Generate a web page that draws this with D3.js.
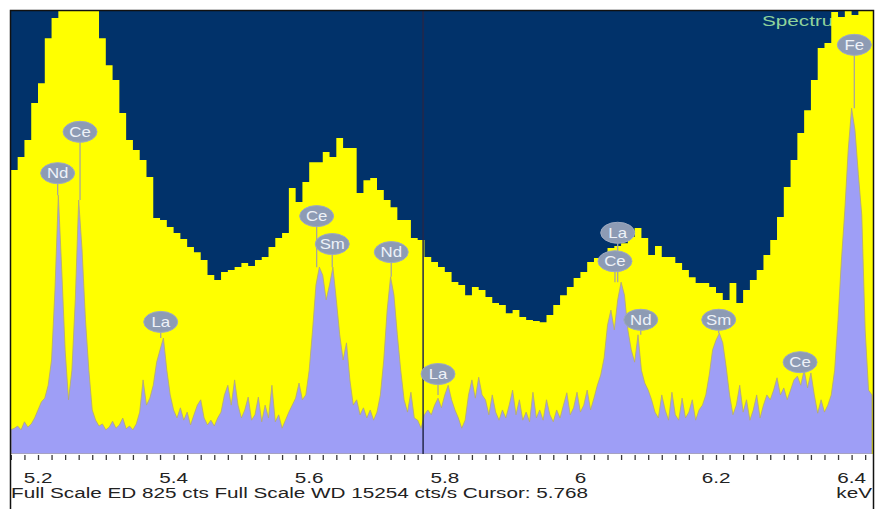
<!DOCTYPE html>
<html>
<head>
<meta charset="utf-8">
<script src="https://cdn.jsdelivr.net/npm/d3@7"></script>
<style>
  body { margin: 0; background: #fff; }
  svg { display: block; font-family: "Liberation Sans", Arial, sans-serif; }
</style>
</head>
<body>
<div id="chart"></div>
<script>
// WD spectrum, cts/s per 0.01 keV channel starting at 5.16 keV
const wdStart = 5.16;
const wdStep = 0.01;
const wdCps = [
  9780, 10230, 10810, 12090, 12770, 14320, 15010, 15900, 16600, 17200,
  17000, 16500, 15800, 14320, 13390, 12880, 11740, 10810, 10470, 10120,
  9540, 8130, 8060, 7820, 7610, 7400, 7130, 6950, 6680, 6160,
  5990, 6270, 6340, 6440, 6580, 6470, 6680, 6780, 7130, 7440,
  7610, 9160, 8680, 9370, 10050, 10050, 10400, 10230, 10880, 10540,
  10540, 8990, 9430, 9500, 9090, 8750, 8500, 8060, 8060, 7440,
  7370, 6780, 6610, 6440, 6270, 5920, 5820, 5470, 5750, 5650,
  5410, 5200, 5130, 4850, 4960, 4720, 4610, 4580, 4540, 4790,
  5130, 5470, 5750, 6060, 6270, 6610, 6750, 6780, 7090, 7160,
  7260, 7470, 7780, 7440, 6850, 7160, 6780, 6780, 6580, 6340,
  6090, 5890, 5890, 5750, 5540, 5300, 5890, 5200, 5650, 5990,
  6340, 6850, 7370, 8160, 9190, 10120, 11050, 11840, 12880, 13980,
  14150, 15220, 15050, 16000, 15120, 16500, 16500
];

// ED spectrum, counts per 0.005 keV step starting at 5.16 keV
const edStart = 5.16;
const edStep = 0.005;
const edCounts = [
  45, 48, 52, 45, 60, 50, 56, 67, 82, 97, 104, 128, 175, 305, 482,
  343, 194, 101, 156, 287, 473, 380, 250, 156, 82, 63, 52, 56, 45, 50,
  61, 48, 54, 67, 47, 52, 45, 56, 78, 138, 91, 104, 128, 171, 194,
  216, 156, 110, 82, 67, 86, 63, 78, 54, 73, 91, 101, 67, 54, 63,
  52, 67, 78, 110, 128, 91, 138, 91, 67, 82, 106, 63, 73, 106, 60,
  91, 67, 128, 60, 73, 48, 63, 78, 91, 104, 132, 101, 110, 156, 231,
  315, 348, 333, 287, 315, 348, 287, 222, 175, 207, 138, 91, 101, 73, 86,
  67, 82, 63, 78, 110, 175, 268, 330, 296, 222, 156, 101, 78, 115, 67,
  63, 48, 73, 82, 73, 91, 104, 86, 110, 128, 101, 82, 67, 48, 63,
  110, 138, 104, 143, 110, 101, 73, 110, 78, 63, 82, 67, 91, 119, 73,
  101, 63, 78, 60, 115, 67, 82, 63, 101, 73, 60, 82, 67, 91, 114,
  73, 86, 115, 78, 91, 119, 82, 104, 128, 147, 179, 240, 268, 231, 287,
  320, 296, 231, 194, 171, 222, 156, 132, 119, 101, 78, 67, 110, 82, 63,
  115, 73, 63, 104, 67, 78, 101, 63, 82, 91, 110, 147, 194, 212, 225,
  207, 162, 110, 73, 91, 128, 78, 101, 63, 82, 110, 67, 91, 110, 101,
  119, 142, 110, 123, 101, 119, 138, 145, 128, 156, 123, 151, 110, 76, 101,
  78, 91, 110, 156, 250, 361, 454, 566, 644, 603, 520, 445, 231, 119, 110
];

// peak markers: element, energy (keV), marker height (ED counts)
const peakElements = ['Nd', 'Ce', 'La', 'Ce', 'Sm', 'Nd', 'La', 'La', 'Ce', 'Nd', 'Sm', 'Ce', 'Fe'];
const peakKev = [5.229, 5.262, 5.381, 5.611, 5.634, 5.721, 5.79, 6.055, 6.051, 6.089, 6.204, 6.324, 6.404];
const peakLevel = [523, 600, 246, 443, 391, 376, 149, 412, 359, 250, 250, 171, 762];

const tickLabels = [5.2, 5.4, 5.6, 5.8, 6, 6.2, 6.4];
const edFullScale = 825;
const wdFullScale = 15254;
const cursorKev = 5.768;
const spectrumName = 'Spectrum 1';
const footerText = `Full Scale ED ${edFullScale} cts Full Scale WD ${wdFullScale} cts/s Cursor: ${cursorKev}`;

const W = 881, H = 509;
const plot = { left: 11, top: 11, right: 873, bottom: 454 };
const stretch = 1.38; // the original text is wide

const svg = d3.select('#chart').append('svg')
  .attr('width', W)
  .attr('height', H);

const x = d3.scaleLinear().domain([5.2, 6.4]).range([38, 851.6]);
const yED = d3.scaleLinear().domain([0, edFullScale]).range([plot.bottom, plot.top]);
const yWD = d3.scaleLinear().domain([0, wdFullScale]).range([plot.bottom, plot.top]);

svg.append('clipPath').attr('id', 'plotClip')
  .append('rect')
  .attr('x', plot.left)
  .attr('y', plot.top)
  .attr('width', plot.right - plot.left)
  .attr('height', plot.bottom - plot.top);

// navy background
svg.append('rect')
  .attr('x', plot.left)
  .attr('y', plot.top)
  .attr('width', plot.right - plot.left)
  .attr('height', plot.bottom - plot.top)
  .attr('fill', '#01326a');

// spectrum name sits under the yellow
svg.append('text')
  .attr('transform', `translate(762,26) scale(${stretch},1)`)
  .attr('font-size', 15)
  .attr('fill', '#8fd39c')
  .text(spectrumName);

const plotG = svg.append('g').attr('clip-path', 'url(#plotClip)');

// WD histogram (yellow)
const wdData = wdCps.map((v, i) => ({ e: wdStart + i * wdStep, v }));
wdData.push({ e: wdStart + wdCps.length * wdStep + 0.003, v: wdCps[wdCps.length - 1] });

const wdArea = d3.area()
  .x(d => x(d.e))
  .y0(yWD(0))
  .y1(d => yWD(d.v))
  .curve(d3.curveStepAfter);

plotG.append('path')
  .datum(wdData)
  .attr('d', wdArea)
  .attr('fill', '#ffff00');

// ED spectrum (lavender)
const edData = edCounts.map((v, i) => ({ e: edStart + i * edStep, v }));

const edArea = d3.area()
  .x(d => x(d.e))
  .y0(yED(0))
  .y1(d => yED(d.v));

plotG.append('path')
  .datum(edData)
  .attr('d', edArea)
  .attr('fill', '#9e9ef6')
  .attr('stroke', '#b3a872')
  .attr('stroke-width', 0.8);

// cursor
plotG.append('line')
  .attr('x1', x(cursorKev))
  .attr('x2', x(cursorKev))
  .attr('y1', plot.top)
  .attr('y2', plot.bottom)
  .attr('stroke', '#24284a')
  .attr('stroke-width', 1.5);

// peak markers
const peaks = peakElements.map((el, i) => ({ el, kev: peakKev[i], level: peakLevel[i] }));
const rx = 17, ry = 10.5;

const peakTop = (kev) => {
  const k = Math.round((kev - edStart) / edStep);
  return d3.max(edCounts.slice(Math.max(0, k - 2), k + 3));
};

const markG = svg.append('g');

markG.selectAll('line.leader')
  .data(peaks)
  .enter()
  .append('line')
  .attr('class', 'leader')
  .attr('x1', d => x(d.kev))
  .attr('x2', d => x(d.kev))
  .attr('y1', d => yED(d.level) + ry)
  .attr('y2', d => yED(peakTop(d.kev)))
  .attr('stroke', '#a9a79a')
  .attr('stroke-width', 1.3);

const badge = markG.selectAll('g.badge')
  .data(peaks)
  .enter()
  .append('g')
  .attr('class', 'badge')
  .attr('transform', d => `translate(${x(d.kev)},${yED(d.level)})`);

badge.append('ellipse')
  .attr('rx', rx)
  .attr('ry', ry)
  .attr('fill', '#8d9bb4')
  .attr('stroke', '#9eaac0')
  .attr('stroke-width', 1);

badge.append('text')
  .attr('transform', 'scale(1.2,1)')
  .attr('text-anchor', 'middle')
  .attr('dy', '0.36em')
  .attr('font-size', 14)
  .attr('fill', '#eef2f8')
  .text(d => d.el);

// axis ticks every 0.02 keV
const tickVals = d3.range(0, 64).map(i => 5.16 + i * 0.02);
const axis = d3.axisBottom(x)
  .tickValues(tickVals)
  .tickSize(5)
  .tickFormat('');

const axisG = svg.append('g')
  .attr('transform', `translate(0,${plot.bottom + 1})`)
  .call(axis);
axisG.select('.domain').remove();
axisG.selectAll('.tick line').attr('stroke', '#3a3a3a').attr('stroke-width', 1.3);

svg.append('g').selectAll('text')
  .data(tickLabels)
  .enter()
  .append('text')
  .attr('transform', d => `translate(${x(d)},483) scale(${stretch},1)`)
  .attr('text-anchor', 'middle')
  .attr('font-size', 15)
  .attr('fill', '#222')
  .text(d => String(d));

svg.append('text')
  .attr('transform', `translate(11,498) scale(${stretch},1)`)
  .attr('font-size', 15)
  .attr('fill', '#222')
  .text(footerText);

svg.append('text')
  .attr('transform', `translate(872,498) scale(${stretch},1)`)
  .attr('text-anchor', 'end')
  .attr('font-size', 15)
  .attr('fill', '#222')
  .text('keV');

// frame
svg.append('path')
  .attr('d', `M10.5,${H} V10.5 H873.5 V${H}`)
  .attr('fill', 'none')
  .attr('stroke', '#111')
  .attr('stroke-width', 1.5);
</script>
</body>
</html>
